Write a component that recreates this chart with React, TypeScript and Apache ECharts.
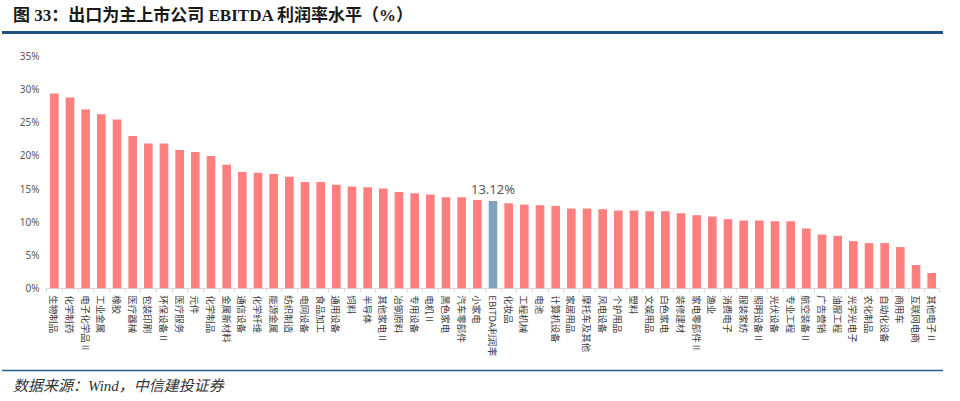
import React, { useEffect, useRef } from 'react'
import * as echarts from 'echarts'

const categories: string[] = [
  '生物制品', '化学制药', '电子化学品Ⅱ', '工业金属', '橡胶', '医疗器械', '包装印刷', '环保设备Ⅱ',
  '医疗服务', '元件', '化学制品', '金属新材料', '通信设备', '化学纤维', '能源金属', '纺织制造',
  '电网设备', '食品加工', '通用设备', '饲料', '半导体', '其他家电Ⅱ', '冶钢原料', '专用设备',
  '电机Ⅱ', '黑色家电', '汽车零部件', '小家电', 'EBITDA利润率', '化妆品', '工程机械', '电池',
  '计算机设备', '家居用品', '摩托车及其他', '风电设备', '个护用品', '塑料', '文娱用品', '白色家电',
  '装修建材', '家电零部件Ⅱ', '渔业', '消费电子', '服装家纺', '照明设备Ⅱ', '光伏设备', '专业工程',
  '航空装备Ⅱ', '广告营销', '油服工程', '光学光电子', '农化制品', '自动化设备', '商用车', '互联网电商',
  '其他电子Ⅱ'
]

// EBITDA 利润率（%）
const margins: number[] = [
  29.3, 28.7, 26.9, 26.2, 25.4, 22.9, 21.8, 21.8,
  20.8, 20.5, 19.9, 18.6, 17.5, 17.4, 17.2, 16.8,
  16.0, 16.0, 15.6, 15.3, 15.2, 15.0, 14.5, 14.3,
  14.1, 13.7, 13.7, 13.3, 13.12, 12.8, 12.6, 12.5,
  12.4, 12.0, 12.0, 11.9, 11.7, 11.7, 11.6, 11.6,
  11.3, 11.0, 10.8, 10.4, 10.2, 10.2, 10.1, 10.1,
  9.0, 8.1, 7.9, 7.1, 6.8, 6.8, 6.2, 3.5,
  2.3
]

const highlightName = 'EBITDA利润率'
const yTicks = { min: 0, max: 35, interval: 5 }

const App = () => {
  const chartRef: any = useRef()

  useEffect(() => {
    const chart = echarts.init(chartRef.current, null, { renderer: 'svg' })

    const barData = margins.map((v, i) => {
      const isAvg = categories[i] === highlightName
      return {
        value: v,
        itemStyle: { color: isAvg ? '#7fa2bd' : '#ff7f7f' },
        label: isAvg
          ? {
              show: true,
              position: 'top',
              distance: 6,
              formatter: (p: any) => p.value.toFixed(2) + '%',
              fontSize: 13,
              color: '#595959',
              fontFamily: 'Noto Sans, sans-serif'
            }
          : { show: false }
      }
    })

    const options: any = {
      animation: false,
      backgroundColor: '#ffffff',
      grid: { left: 46.5, right: 20.5, top: 55.7, bottom: 112.7, containLabel: false },
      xAxis: {
        type: 'category',
        data: categories,
        axisLine: { lineStyle: { color: '#d9d9d9', width: 1 } },
        axisTick: { show: true, length: 4, lineStyle: { color: '#d9d9d9' } },
        axisLabel: {
          interval: 0,
          rotate: -90,
          fontSize: 9.5,
          color: '#404040',
          margin: 7,
          fontFamily: 'Noto Sans CJK SC, sans-serif'
        }
      },
      yAxis: {
        type: 'value',
        min: yTicks.min,
        max: yTicks.max,
        interval: yTicks.interval,
        axisLine: { show: false },
        axisTick: { show: false },
        splitLine: { show: false },
        axisLabel: {
          formatter: '{value}%',
          fontSize: 10,
          color: '#595959',
          margin: 7,
          fontFamily: 'Noto Sans, sans-serif'
        }
      },
      series: [
        {
          type: 'bar',
          data: barData,
          barCategoryGap: '45%'
        }
      ],
      graphic: [
        {
          type: 'text',
          left: 13,
          top: 7,
          style: {
            text: '图 33：出口为主上市公司 EBITDA 利润率水平（%）',
            fontSize: 17,
            fontWeight: 'bold',
            fill: '#1a1a1a',
            fontFamily: 'Liberation Serif, Noto Sans CJK SC, serif'
          }
        },
        {
          type: 'line',
          shape: { x1: 2, y1: 32.5, x2: 943, y2: 32.5 },
          style: { stroke: '#1d5080', lineWidth: 3 }
        },
        {
          type: 'line',
          shape: { x1: 2, y1: 370.5, x2: 943, y2: 370.5 },
          style: { stroke: '#2a5d8c', lineWidth: 1.5 }
        },
        {
          type: 'text',
          left: 13,
          top: 378,
          style: {
            text: '数据来源：Wind，中信建投证券',
            fontSize: 15,
            fontStyle: 'italic',
            fill: '#333333',
            fontFamily: 'Liberation Serif, Noto Sans CJK SC, serif'
          }
        }
      ]
    }

    chart.setOption(options)

    return () => {
      chart.dispose()
    }
  }, [])

  return (
    <div
      ref={chartRef}
      style={{ position: 'fixed', left: 0, top: 0, width: 960, height: 401 }}
    ></div>
  )
}

export default App
